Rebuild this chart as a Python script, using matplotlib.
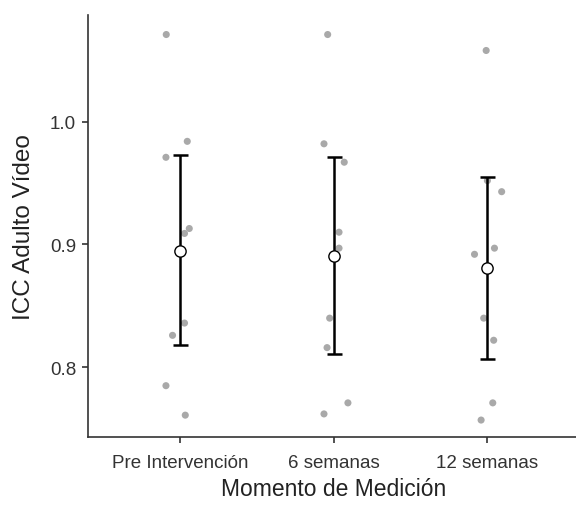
import numpy as np
import matplotlib.pyplot as plt

plt.rcParams['font.family'] = ['Liberation Sans', 'DejaVu Sans']

momentos = ['Pre Intervención', '6 semanas', '12 semanas']

# ICC por participante en cada momento
icc_pre = [1.071, 0.984, 0.971, 0.913, 0.909, 0.836, 0.826, 0.785, 0.761]
icc_6 = [1.071, 0.982, 0.967, 0.910, 0.897, 0.840, 0.816, 0.771, 0.762]
icc_12 = [1.058, 0.952, 0.943, 0.897, 0.892, 0.840, 0.822, 0.771, 0.757]

# desplazamiento horizontal de cada punto (jitter)
jit_pre = [-0.09, 0.047, -0.092, 0.06, 0.029, 0.029, -0.049, -0.092, 0.034]
jit_6 = [-0.038, -0.062, 0.07, 0.036, 0.036, -0.025, -0.042, 0.094, -0.062]
jit_12 = [-0.005, 0.003, 0.096, 0.049, -0.081, -0.021, 0.044, 0.038, -0.038]

# media e intervalo de confianza al 95%
medias = [0.895, 0.891, 0.881]
ic_inf = [0.818, 0.811, 0.807]
ic_sup = [0.973, 0.971, 0.955]

fig = plt.figure(figsize=(5.76, 5.1), dpi=100)
ax = fig.add_axes([88 / 576, 72 / 510, 491 / 576, 422 / 510])

grupos = [icc_pre, icc_6, icc_12]
jitters = [jit_pre, jit_6, jit_12]
for i, (vals, jit) in enumerate(zip(grupos, jitters)):
    xs = (i + 1) + np.array(jit)
    ax.scatter(xs, vals, s=26, color='#A9A9A9', edgecolor='none', zorder=2)

pos = np.arange(1, 4)
medias = np.array(medias)
err = [medias - np.array(ic_inf), np.array(ic_sup) - medias]
ax.errorbar(pos, medias, yerr=err, fmt='none', ecolor='black',
            elinewidth=1.8, capsize=5.4, capthick=1.8, zorder=3)
ax.scatter(pos, medias, s=66, color='white', edgecolor='black',
           linewidth=1.0, zorder=4)

ax.set_xlim(0.4, 3.6)
ax.set_ylim(0.7432, 1.0869)
ax.set_xticks(pos)
ax.set_xticklabels(momentos)
ax.set_yticks([0.8, 0.9, 1.0])
ax.set_yticklabels(['0.8', '0.9', '1.0'])

for s in ['top', 'right']:
    ax.spines[s].set_visible(False)
for s in ['left', 'bottom']:
    ax.spines[s].set_color('#333333')
    ax.spines[s].set_linewidth(1.2)

ax.tick_params(axis='both', colors='#333333', width=1.2, length=4.5,
               labelsize=13.5, labelcolor='#333333', pad=4)
ax.tick_params(axis='x', pad=8)
ax.set_xlabel('Momento de Medición', fontsize=16.5, color='#222222', labelpad=4)
ax.set_ylabel('ICC Adulto Vídeo', fontsize=17.5, color='#222222', labelpad=11)

fig.savefig('out.png', dpi=100)
